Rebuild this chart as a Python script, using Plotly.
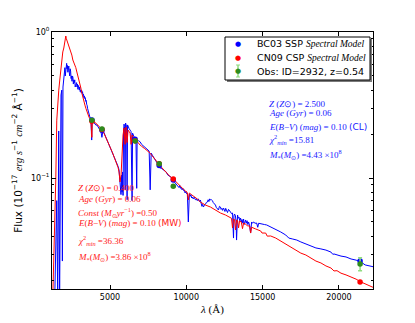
import plotly.graph_objects as go

# ---------------- data ----------------
bc03_wl = [1380, 1510, 1575, 1640, 1700, 1740, 1790, 1840, 1880, 1920,
           1950, 1975, 2000, 2020, 2045, 2070, 2100, 2130, 2160, 2185, 2210, 2240, 2270, 2300, 2330,
           2360, 2390, 2420, 2450, 2480, 2510, 2540, 2570, 2600, 2630, 2660, 2690, 2720, 2750, 2780,
           2810, 2840, 2870, 2900, 2930, 2960, 2990, 3020, 3050, 3080, 3110, 3140, 3170, 3200, 3230,
           3260, 3290, 3320, 3350, 3380, 3410, 3440, 3470, 3500, 3530, 3560, 3590, 3620, 3650, 3680,
           3720, 3750,
           3800, 3830, 3880, 3950, 4010, 4080, 4145, 4210, 4276, 4340, 4410, 4470, 4540, 4600, 4670,
           4740, 4800, 4870, 4930, 5000, 5070, 5130, 5200, 5260, 5330, 5400, 5460, 5530, 5590, 5660,
           5720, 5760, 5790, 5820, 5855, 5888, 5920, 5950, 5987, 6020, 6053, 6090, 6119, 6150, 6184,
           6250, 6316, 6380, 6448, 6480, 6580, 6700, 6750, 6776, 6870, 6974, 7070, 7171, 7270, 7369,
           7470, 7566, 7632, 7698, 7800, 7895, 8000, 8093, 8190, 8290, 8390, 8487, 8590, 8685, 8780,
           8882, 8980, 9080, 9180, 9277, 9380,
           9474, 9520, 9570, 9620, 9672, 9720, 9770, 9820, 9869, 9920, 9970, 10020, 10066, 10132, 10198,
           10250, 10300, 10350, 10395, 10450, 10520, 10590, 10658, 10720, 10790, 10860, 10922, 10980, 11020,
           11070, 11119, 11180, 11251, 11310, 11383, 11430, 11480, 11530, 11580, 11640, 11712, 11760, 11810,
           11860, 11909, 11960, 12010, 12060, 12106, 12170, 12238, 12280, 12330, 12380, 12435, 12480, 12530,
           12580, 12633, 12700, 12764, 12830, 12896, 12960, 13028, 13060, 13093, 13120, 13159, 13220, 13260,
           13291, 13320, 13357, 13400, 13450, 13500, 13554, 13600, 13650, 13700, 13751, 13790, 13820, 13883,
           13930, 13980, 14030, 14080, 14150, 14212, 14278, 14340, 14409, 14500, 14607, 14680, 14738,
           14870, 15002, 15130, 15265, 15528, 15857, 16186, 16515, 16713, 16976, 17239, 17502, 17831,
           18160, 18489, 18818, 19147, 19476, 19600, 19673, 19871, 20134, 20463, 20792, 21121, 21450,
           21713, 21976, 22305]
bc03_flux = [0.015, 0.070, 0.015, 0.21, 0.015, 0.29, 0.37, 0.40, 0.027, 0.42,
             0.47, 0.51, 0.48, 0.55, 0.57, 0.50, 0.53, 0.58, 0.61, 0.56, 0.59, 0.53, 0.57, 0.585, 0.53,
             0.50, 0.56, 0.54, 0.48, 0.50, 0.46, 0.50, 0.49, 0.44, 0.47, 0.45, 0.47, 0.42, 0.44, 0.43,
             0.45, 0.42, 0.44, 0.405, 0.43, 0.42, 0.40, 0.42, 0.39, 0.40, 0.385, 0.40, 0.38, 0.39, 0.37,
             0.375, 0.355, 0.365, 0.35, 0.355, 0.335, 0.34, 0.32, 0.315, 0.30, 0.29, 0.285, 0.275, 0.27, 0.262,
             0.258, 0.255,
             0.182, 0.25, 0.245, 0.24, 0.238, 0.23, 0.231, 0.225, 0.223, 0.215, 0.207, 0.19, 0.213, 0.205, 0.197,
             0.19, 0.182, 0.175, 0.168, 0.162, 0.156, 0.15, 0.144, 0.14, 0.137, 0.13, 0.127, 0.12, 0.114, 0.097,
             0.077, 0.105, 0.08, 0.11, 0.076, 0.21, 0.234, 0.225, 0.083, 0.238, 0.231, 0.228, 0.071, 0.231, 0.223,
             0.218, 0.213, 0.208, 0.070, 0.203, 0.191, 0.186, 0.085, 0.182, 0.18, 0.177, 0.17, 0.166, 0.163, 0.161,
             0.156, 0.153, 0.083, 0.148, 0.142, 0.137, 0.131, 0.127, 0.121, 0.117, 0.116, 0.114, 0.111, 0.110, 0.105,
             0.103, 0.101, 0.100, 0.095, 0.0924, 0.089,
             0.0882, 0.086, 0.089, 0.085, 0.0868, 0.083, 0.085, 0.082, 0.0828, 0.079, 0.081, 0.078, 0.0789, 0.050, 0.0777,
             0.075, 0.077, 0.073, 0.0741, 0.072, 0.074, 0.071, 0.0718, 0.070, 0.072, 0.069, 0.0707, 0.067, 0.064,
             0.066, 0.0633, 0.065, 0.066, 0.068, 0.0685, 0.071, 0.069, 0.072, 0.0707, 0.071, 0.0700, 0.068, 0.067,
             0.066, 0.0653, 0.063, 0.062, 0.061, 0.0604, 0.064, 0.0633, 0.061, 0.062, 0.060, 0.0623, 0.061, 0.059,
             0.062, 0.0604, 0.058, 0.061, 0.059, 0.0585, 0.057, 0.0576, 0.047, 0.0388, 0.055, 0.0567, 0.055, 0.050,
             0.0376, 0.054, 0.0558, 0.053, 0.054, 0.051, 0.0532, 0.050, 0.052, 0.049, 0.0524, 0.048, 0.050, 0.0516,
             0.049, 0.051, 0.048, 0.0500, 0.047, 0.042, 0.050, 0.049, 0.050, 0.049, 0.0492, 0.046, 0.049,
             0.0485, 0.0484, 0.048, 0.0477, 0.0462, 0.0448, 0.0427, 0.0407, 0.0388, 0.0382, 0.0376, 0.0365, 0.0353,
             0.0342, 0.0332, 0.0327, 0.0321, 0.0311, 0.0300, 0.0302, 0.0297, 0.0292, 0.0288, 0.0279, 0.0274, 0.0266,
             0.0254, 0.0250, 0.0246]

cn09_wl = [1250, 1380, 1447, 1513, 1578, 1644, 1710, 1776, 1842, 1907, 1973, 2039, 2105, 2140, 2171,
           2237, 2303, 2368, 2434, 2500, 2566, 2630, 2698, 2760, 2829, 2900, 2961, 3030, 3093, 3160,
           3224, 3290, 3356, 3420, 3487, 3550, 3619, 3680, 3750, 3810, 3840, 3882, 3950, 4013, 4080,
           4145, 4210, 4276, 4340, 4408, 4474, 4539, 4605, 4671, 4737, 4803, 4870, 4934, 5000, 5066,
           5130, 5197, 5260, 5329, 5400, 5461, 5530, 5592, 5658, 5724, 5790, 5855, 5921, 5987, 6053,
           6119, 6184, 6250, 6316, 6382, 6448, 6510, 6579, 6680, 6776, 6870, 6974, 7070, 7171, 7270,
           7369, 7500, 7632, 7760, 7895, 8000, 8093, 8190, 8290, 8450, 8619, 8780, 8948, 9145, 9280,
           9408, 9540, 9672, 9800, 9935, 10050, 10132, 10198, 10330, 10461, 10600, 10724, 10922, 11251,
           11580, 11909, 12238, 12567, 12896, 12960, 13028, 13093, 13160, 13225, 13291, 13360, 13422,
           13488, 13600, 13680, 13751, 13883, 14000, 14150, 14212, 14280, 14541, 14870, 14960, 15199,
           15300, 15528, 15857, 16186, 16515, 16700, 16844, 17173, 17502, 17831, 18160, 18489, 18818,
           19147, 19476, 19600, 19673, 19871, 20134, 20463, 20792, 21121, 21450, 21779, 22108, 22305]
cn09_flux = [0.015, 0.044, 0.097, 0.249, 0.342, 0.40, 0.469, 0.549, 0.643, 0.730, 0.777, 0.855, 0.939, 0.90, 0.881,
             0.828, 0.815, 0.777, 0.741, 0.695, 0.643, 0.62, 0.604, 0.57, 0.532, 0.50, 0.469, 0.44, 0.413, 0.38,
             0.353, 0.335, 0.316, 0.30, 0.283, 0.272, 0.262, 0.255, 0.249, 0.19, 0.245, 0.238, 0.243, 0.241, 0.236,
             0.234, 0.230, 0.227, 0.223, 0.220, 0.215, 0.210, 0.203, 0.197, 0.191, 0.185, 0.178, 0.171, 0.165, 0.158,
             0.152, 0.146, 0.140, 0.135, 0.130, 0.125, 0.118, 0.110, 0.094, 0.105, 0.156, 0.197, 0.220, 0.170, 0.223,
             0.175, 0.213, 0.208, 0.203, 0.170, 0.197, 0.192, 0.188, 0.182, 0.177, 0.172, 0.168, 0.165, 0.163, 0.159,
             0.156, 0.152, 0.148, 0.142, 0.137, 0.133, 0.129, 0.125, 0.121, 0.116, 0.110, 0.106, 0.102, 0.0985, 0.095,
             0.0924, 0.089, 0.0868, 0.084, 0.0815, 0.080, 0.0707, 0.0789, 0.077, 0.0753, 0.073, 0.0718, 0.0685, 0.0653,
             0.0633, 0.0604, 0.0576, 0.0558, 0.0532, 0.053, 0.0455, 0.0524, 0.052, 0.0441, 0.0516, 0.051, 0.0455,
             0.0508, 0.050, 0.045, 0.0492, 0.0484, 0.047, 0.047, 0.042, 0.046, 0.0448, 0.0434, 0.042, 0.0420,
             0.040, 0.0401, 0.0388, 0.0370, 0.0353, 0.034, 0.0337, 0.0321, 0.0306, 0.0297, 0.0283, 0.0270, 0.0262,
             0.0250, 0.0242, 0.0232, 0.0231, 0.0232, 0.0223, 0.0217, 0.0210, 0.0203, 0.0194, 0.0188, 0.0182, 0.0177]

phot_wl = [3816, 4474, 6645, 8224, 9145, 21384]
obs_flux = [0.249, 0.217, 0.179, 0.125, 0.088, 0.0258]
obs_err = [0.003, 0.003, 0.002, 0.002, 0.001, 0.0026]
bc03_phot = [0.250, 0.212, 0.184, 0.122, 0.097, 0.0270]
cn09_phot = [0.245, 0.215, 0.180, 0.125, 0.0985, 0.0194]

assert len(bc03_wl) == len(bc03_flux) and len(cn09_wl) == len(cn09_flux)

x_ticks = [5000, 10000, 15000, 20000]
x_ticktext = ["5000", "10000", "15000", "20000"]
y_ticks = [0.1, 1]
y_ticktext = ["10<sup>−1</sup>", "10<sup>0</sup>"]
y_minor = [0.02, 0.03, 0.04, 0.05, 0.06, 0.07, 0.08, 0.09, 0.2, 0.3, 0.4, 0.5, 0.6, 0.7, 0.8, 0.9]

SANS = "DejaVu Sans"
SERIF = "Liberation Serif"
ssans = lambda t: f"<span style='font-family:{SANS}'>{t}</span>"
sserif = lambda t: f"<span style='font-family:{SERIF}'>{t}</span>"

legend_labels = ["BC03 SSP " + sserif("<i>Spectral Model</i>"),
                 "CN09 CSP " + sserif("<i>Spectral Model</i>"),
                 "Obs: ID=2932, z=0.54"]

red_lines = [
    "<i>Z</i> (<i>Z</i>⊙) = 0.400",
    "<i>Age</i> (<i>Gyr</i>) = 0.06",
    "<i>Const</i> (<i>M</i><sub>⊙</sub><i>yr</i><sup>−1</sup>) =0.50",
    "<i>E</i>(<i>B</i>−<i>V</i>) (<i>mag</i>) = 0.10 " + ssans("(MW)"),
    "<i>χ</i><sup>2</sup><sub><i>min</i></sub> =36.36",
    "<i>M</i><sub>*</sub>(<i>M</i><sub>⊙</sub>) =3.86 ×10<sup>8</sup>",
]
blue_lines = [
    "<i>Z</i> (<i>Z</i>⊙) = 2.500",
    "<i>Age</i> (<i>Gyr</i>) = 0.06",
    "<i>E</i>(<i>B</i>−<i>V</i>) (<i>mag</i>) = 0.10 " + ssans("(CL)"),
    "<i>χ</i><sup>2</sup><sub><i>min</i></sub> =15.81",
    "<i>M</i><sub>*</sub>(<i>M</i><sub>⊙</sub>) =4.43 ×10<sup>8</sup>",
]

# ---------------- layout helpers (pixel -> paper) ----------------
W, H = 415, 323
L, R, T, B = 52, 373, 32, 289
px = lambda x: (x - L) / (R - L)
py = lambda y: (B - y) / (B - T)

fig = go.Figure()
fig.add_trace(go.Scatter(x=bc03_wl, y=bc03_flux, mode="lines", line=dict(color="#0000ff", width=1),
                         showlegend=False, hoverinfo="skip"))
fig.add_trace(go.Scatter(x=cn09_wl, y=cn09_flux, mode="lines", line=dict(color="#ff0000", width=1),
                         showlegend=False, hoverinfo="skip"))
fig.add_trace(go.Scatter(x=phot_wl, y=bc03_phot, mode="markers", marker=dict(color="#0000ff", size=5.5),
                         showlegend=False))
fig.add_trace(go.Scatter(x=phot_wl, y=cn09_phot, mode="markers", marker=dict(color="#ff0000", size=5.5),
                         showlegend=False))
fig.add_trace(go.Scatter(x=phot_wl, y=obs_flux, mode="markers",
                         marker=dict(color="#2e8b1e", size=5.5),
                         error_y=dict(type="data", array=obs_err, color="#8fdc7f", thickness=1.5, width=2),
                         showlegend=False))

ann = []
for i, t in enumerate(red_lines):
    ys = [188, 199, 212, 223, 240, 256][i]
    ann.append(dict(x=px(76), y=py(ys), xref="paper", yref="paper", text=t, showarrow=False,
                    xanchor="left", yanchor="middle", font=dict(family=SERIF, size=9, color="#ff2020")))
for i, t in enumerate(blue_lines):
    ys = [104, 113, 127, 139, 154][i]
    ann.append(dict(x=px(267), y=py(ys), xref="paper", yref="paper", text=t, showarrow=False,
                    xanchor="left", yanchor="middle", font=dict(family=SERIF, size=9, color="#2020ff")))

# legend drawn by hand (matplotlib-style compact box with shadow)
leg_rows = [44, 58, 71]
leg_cols = ["#0000ff", "#ff0000", "#2e8b1e"]
for i, (lab, c) in enumerate(zip(legend_labels, leg_cols)):
    ann.append(dict(x=px(255), y=py(leg_rows[i]), xref="paper", yref="paper", text=lab, showarrow=False,
                    xanchor="left", yanchor="middle", font=dict(family=SANS, size=9.5, color="black")))
    ann.append(dict(x=px(238), y=py(leg_rows[i]), xref="paper", yref="paper", text="●", showarrow=False,
                    xanchor="center", yanchor="middle", font=dict(family=SANS, size=7, color=c)))

shapes = [
    dict(type="rect", xref="paper", yref="paper", x0=px(227), x1=px(372), y0=py(82), y1=py(39),
         fillcolor="#7a7a7a", line=dict(width=0), layer="above"),
    dict(type="rect", xref="paper", yref="paper", x0=px(225), x1=px(370), y0=py(80), y1=py(37),
         fillcolor="white", line=dict(color="black", width=1), layer="above"),
    dict(type="line", xref="paper", yref="paper", x0=px(238), x1=px(238), y0=py(77), y1=py(65),
         line=dict(color="#8fdc7f", width=1.5), layer="above"),
    dict(type="line", xref="paper", yref="paper", x0=px(236), x1=px(240), y0=py(77), y1=py(77),
         line=dict(color="#8fdc7f", width=1), layer="above"),
    dict(type="line", xref="paper", yref="paper", x0=px(236), x1=px(240), y0=py(65), y1=py(65),
         line=dict(color="#8fdc7f", width=1), layer="above"),
]

fig.update_layout(
    width=W, height=H, margin=dict(l=L, r=W - R, t=T, b=H - B),
    paper_bgcolor="white", plot_bgcolor="white",
    font=dict(family=SANS, size=8, color="black"),
    annotations=ann, shapes=shapes, showlegend=False,
    xaxis=dict(range=[1200, 22230], tickvals=x_ticks, ticktext=x_ticktext, ticks="inside", ticklen=4,
               tickcolor="black", showline=True, linecolor="black", linewidth=1, mirror="ticks",
               showgrid=False, zeroline=False, tickfont=dict(size=8), automargin=False,
               title=dict(text="<i>λ</i> (Å)", font=dict(family=SERIF, size=11), standoff=4)),
    yaxis=dict(type="log", range=[-1.76, 0], tickvals=y_ticks, ticktext=y_ticktext, ticks="inside",
               ticklen=4, tickcolor="black", showline=True, linecolor="black", linewidth=1,
               mirror="ticks", showgrid=False, zeroline=False, tickfont=dict(size=8), automargin=False,
               minor=dict(tickvals=y_minor, ticks="inside", ticklen=2, tickcolor="black", showgrid=False),
               title=dict(text="Flux (10<sup>−17</sup> " + sserif("<i>erg s</i>") + "<sup>−1</sup> "
                               + sserif("<i>cm</i>") + "<sup>−2</sup> Å<sup>−1</sup>)",
                          font=dict(family=SANS, size=10.5), standoff=6)),
)

fig.write_html("out.html", config={"displayModeBar": False},
               post_script="document.body.style.margin='0px';")
